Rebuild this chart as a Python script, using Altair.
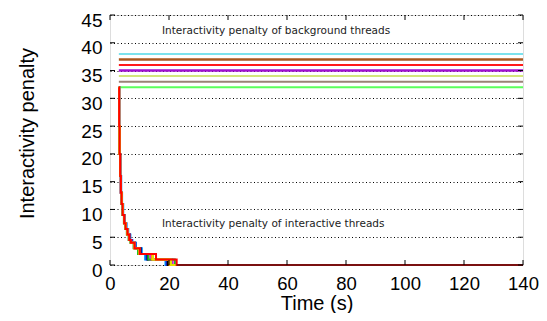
import altair as alt
import pandas as pd

# ---------------- data ----------------
X_TICKS = [0, 20, 40, 60, 80, 100, 120, 140]
Y_TICKS = [0, 5, 10, 15, 20, 25, 30, 35, 40, 45]

# background threads: constant penalty
BG_VALUES = [38, 37, 36, 35, 34, 33, 32]
BG_COLORS = ["#4fd9e8", "#a9581f", "#ff1a1a", "#a010d0", "#c4dc50", "#9a8276", "#5cff5c"]
BG_WIDTHS = [1.5, 2.5, 2, 2.5, 1.5, 2, 2]
BG_START = 3.0
BG_END = 140.0

# interactive threads: penalty levels and the time each level is reached
LEVELS = [32, 25, 20, 16, 13, 11, 9, 7.5, 6.5, 5.5, 4.5, 4, 3, 2, 1, 0]
THREAD_COLORS = ["#00a0ff", "#2020e0", "#000000", "#a000d0", "#ff40ff",
                 "#20c020", "#ffa000", "#e0e000", "#ff0000"]
THREAD_TIMES = [
    [3.0, 3.12, 3.28, 3.5, 3.8, 4.1, 4.5, 5.0, 5.6, 6.2, 6.9, 7.6, 8.8, 10.8, 11.9, 18.8],
    [3.0, 3.10, 3.30, 3.5, 3.75, 4.0, 4.4, 4.9, 5.5, 6.1, 6.8, 7.4, 8.6, 10.5, 12.4, 19.2],
    [3.0, 3.10, 3.25, 3.45, 3.7, 4.0, 4.4, 4.8, 5.4, 5.9, 6.6, 7.2, 8.5, 10.3, 12.8, 19.6],
    [3.0, 3.10, 3.20, 3.4, 3.6, 3.9, 4.3, 4.9, 5.4, 6.0, 6.6, 7.3, 8.4, 9.9, 13.8, 21.0],
    [3.0, 3.10, 3.22, 3.42, 3.68, 3.95, 4.3, 4.75, 5.25, 5.8, 6.4, 7.0, 8.1, 9.8, 13.4, 21.6],
    [3.0, 3.10, 3.20, 3.4, 3.65, 3.9, 4.2, 4.7, 5.2, 5.7, 6.3, 6.9, 8.0, 9.5, 13.0, 22.0],
    [3.0, 3.10, 3.22, 3.44, 3.7, 3.98, 4.35, 4.8, 5.3, 5.85, 6.45, 7.05, 8.2, 9.9, 14.2, 20.2],
    [3.0, 3.10, 3.24, 3.46, 3.72, 4.0, 4.38, 4.85, 5.35, 5.9, 6.5, 7.1, 8.25, 10.0, 14.6, 20.7],
    [3.0, 3.10, 3.25, 3.45, 3.7, 3.95, 4.3, 4.8, 5.3, 5.9, 6.5, 7.1, 8.3, 10.1, 15.6, 22.6],
]
ZERO_COLOR = "#7a1010"
ZERO_START = 22.6

ANNOT_TEXT = ["Interactivity penalty of background threads",
              "Interactivity penalty of interactive threads"]
ANNOT_X = [17.6, 17.6]
ANNOT_Y = [42.1, 7.3]

# ---------------- chart ----------------
W, H = 413, 250
LEFT = 102
FONT = "Arial"

xs = alt.Scale(domain=[0, 140], nice=False, zero=False)
ys = alt.Scale(domain=[0, 45], nice=False, zero=False)

AX_X = alt.Axis(title="Time (s)", values=X_TICKS, grid=False, ticks=False,
                tickSize=0, domain=False, labelFont=FONT, labelFontSize=18.5,
                labelColor="black", labelPadding=9, labelBaseline="top",
                labelFlush=False, labelOverlap=False,
                titleFont=FONT, titleFontSize=20, titleFontWeight="normal",
                titleColor="black", titleY=44, titleBaseline="alphabetic")
AX_Y = alt.Axis(title="Interactivity penalty", values=Y_TICKS, grid=True,
                gridColor="black", gridDash=[1, 2.5], gridWidth=1,
                ticks=False, tickSize=0, domain=False, labelFont=FONT,
                labelFontSize=19, labelColor="black", labelPadding=8,
                labelOffset=5, labelFlush=False, labelOverlap=False,
                titleFont=FONT, titleFontSize=20,
                titleFontWeight="normal", titleColor="black", titleX=-83,
                titleY=118, titleAngle=270, titleBaseline="middle",
                titleAlign="center")


def X(field):
    return alt.X(field, scale=xs, axis=AX_X, title="Time (s)")


def Y(field):
    return alt.Y(field, scale=ys, axis=AX_Y, title="Interactivity penalty")


layers = []

# background thread lines
for v, c, w in zip(BG_VALUES, BG_COLORS, BG_WIDTHS):
    d = pd.DataFrame({"x0": [BG_START], "x1": [BG_END], "y": [v]})
    layers.append(alt.Chart(d).mark_rule(color=c, strokeWidth=w).encode(
        x=X("x0:Q"), x2="x1:Q", y=Y("y:Q")))

# interactive threads
for c, times in zip(THREAD_COLORS, THREAD_TIMES):
    d = pd.DataFrame({"t": times + [BG_END], "v": LEVELS + [0]})
    layers.append(alt.Chart(d).mark_line(color=c, strokeWidth=2, interpolate="step-after").encode(
        x=X("t:Q"), y=Y("v:Q")))

zd = pd.DataFrame({"t": [ZERO_START, BG_END], "v": [0, 0]})
layers.append(alt.Chart(zd).mark_line(color=ZERO_COLOR, strokeWidth=2).encode(
    x=X("t:Q"), y=Y("v:Q")))

# annotations
ad = pd.DataFrame({"x": ANNOT_X, "y": ANNOT_Y, "text": ANNOT_TEXT})
layers.append(alt.Chart(ad).mark_text(align="left", baseline="middle", font="DejaVu Sans",
                                      fontSize=10.5, color="#222").encode(
    x=X("x:Q"), y=Y("y:Q"), text="text:N"))

# inward tick marks (gnuplot style, mirrored)
xt = pd.DataFrame({"x": X_TICKS})
yt = pd.DataFrame({"y": Y_TICKS})
layers.append(alt.Chart(xt).mark_rule(color="black", strokeWidth=1).encode(
    x=X("x:Q"), y=alt.value(H), y2=alt.value(H - 5)))
layers.append(alt.Chart(xt).mark_rule(color="black", strokeWidth=1).encode(
    x=X("x:Q"), y=alt.value(0), y2=alt.value(5)))
layers.append(alt.Chart(yt).mark_rule(color="black", strokeWidth=1).encode(
    y=Y("y:Q"), x=alt.value(0), x2=alt.value(5)))
layers.append(alt.Chart(yt).mark_rule(color="black", strokeWidth=1).encode(
    y=Y("y:Q"), x=alt.value(W), x2=alt.value(W - 5)))

chart = alt.layer(*layers).properties(
    width=W, height=H,
    autosize=alt.AutoSizeParams(type="none"),
    padding={"left": LEFT, "top": 7, "right": 531 - LEFT - W, "bottom": 48},
).configure_view(stroke="black", strokeWidth=1).configure(background="white")

chart.save("out.html", embed_options={"renderer": "svg", "actions": False})
